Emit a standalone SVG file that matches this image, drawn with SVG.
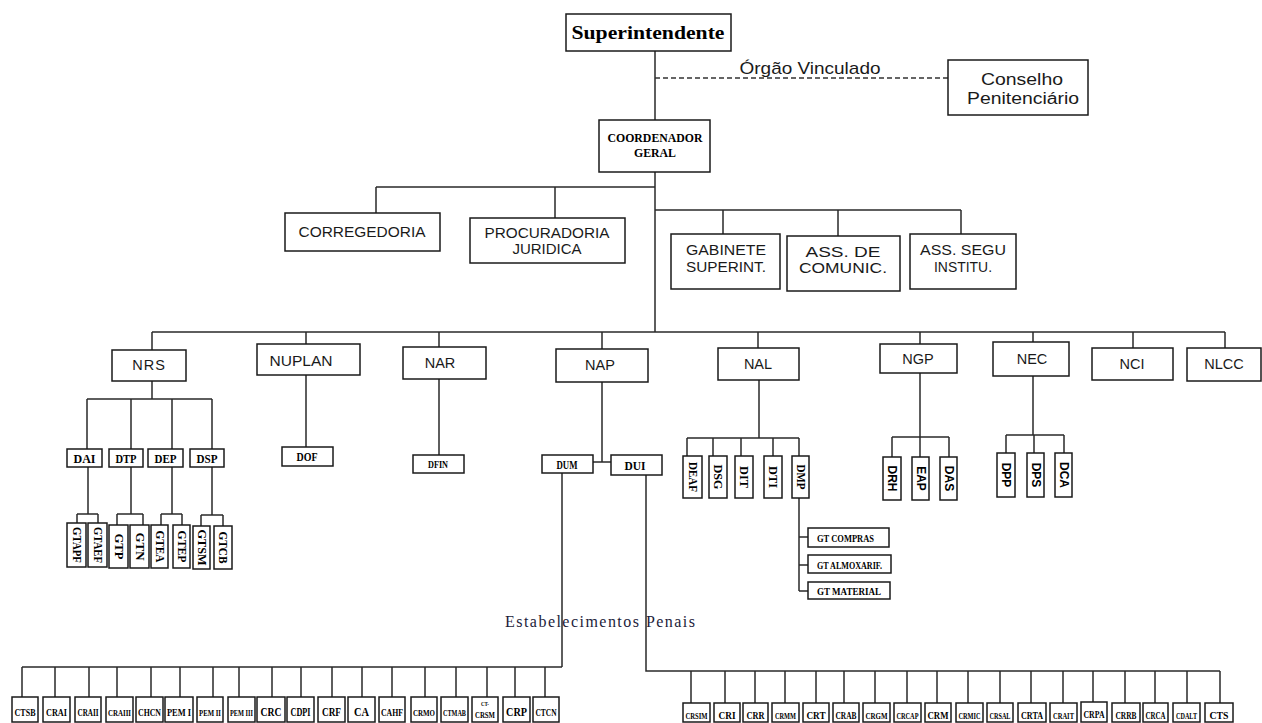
<svg xmlns="http://www.w3.org/2000/svg" width="1262" height="723" viewBox="0 0 1262 723">
<style>
.b{fill:#fff;stroke:#1a1a1a;stroke-width:1.5}
.l{stroke:#2a2a2a;stroke-width:1.5;fill:none}
.s{font-family:"Liberation Sans",Arial,sans-serif;fill:#1a1a1a;text-anchor:middle}
.t{font-family:"Liberation Serif","Times New Roman",serif;font-weight:bold;fill:#000;text-anchor:middle}
.v{font-family:"Liberation Serif","Times New Roman",serif;font-weight:bold;fill:#000;text-anchor:middle;font-size:12px}
.vs{font-family:"Liberation Sans",Arial,sans-serif;font-weight:bold;fill:#000;text-anchor:middle;font-size:12px}
.r{font-size:14.5px}
.m{font-size:15px}
.e{font-size:13px}
</style>
<rect width="1262" height="723" fill="#fff"/>
<g id="connectors">
<path class="l" d="M655 51V120M655 172V332"/>
<path d="M655 78H948" stroke="#333" stroke-width="1.3" stroke-dasharray="5 3" fill="none"/>
<path class="l" d="M376 187H655M376 187V213M555 187V218"/>
<path class="l" d="M655 210H961M723 210V234M838 210V236M961 210V234"/>
<path class="l" d="M152 332H1225M152 332V350M306 332V344M439 332V347M602 332V349M758 332V348M920 332V344M1033 332V342M1133 332V348M1225 332V348"/>
<path class="l" d="M152 381V399M87 399H212M87 399V449M131 399V449M172 399V449M212 399V449"/>
<path class="l" d="M88 467V514M131 467V514M172 467V514M212 467V515M77 514H98M77 514V523M98 514V523M117 514H143M117 514V525M143 514V525M161 514H182M161 514V525M182 514V525M201 515H223M201 515V526M223 515V526"/>
<path class="l" d="M306 375V447M439 379V455"/>
<path class="l" d="M602 382V462M593 462H611"/>
<path class="l" d="M759 380V438M687 438H799M687 438V456M713 438V456M741 438V456M773 438V456M799 438V456"/>
<path class="l" d="M799 498V591M799 537H808M799 565H808M799 591H808"/>
<path class="l" d="M920 373V437M892 437H949M892 437V457M920 437V457M949 437V457"/>
<path class="l" d="M1033 376V435M1006 435H1064M1006 435V453M1034 435V453M1064 435V453"/>
<path class="l" d="M562 473V667M22 667H562M22 667V697M55 667V697M89 667V697M117 667V697M151 667V697M180 667V697M213 667V697M239 667V697M272 667V697M301 667V697M332 667V697M362 667V697M392 667V697M425 667V697M456 667V697M487 667V697M515 667V697M545 667V697"/>
<path class="l" d="M646 475V671H1220M691 671V703M725 671V703M755 671V703M785 671V703M816 671V703M844 671V703M875 671V703M907 671V703M937 671V703M968 671V703M1000 671V703M1031 671V703M1063 671V703M1093 671V703M1125 671V703M1155 671V703M1187 671V703M1220 671V703"/>
</g>
<g id="superintendente"><rect class="b" x="566" y="14" width="165" height="37"/><text class="t" x="648" y="39" font-size="19" textLength="153" lengthAdjust="spacingAndGlyphs">Superintendente</text></g>
<g id="orgao-vinculado"><text class="s" x="810" y="74" font-size="17" textLength="141" lengthAdjust="spacingAndGlyphs">Órgão Vinculado</text></g>
<g id="conselho"><rect class="b" x="948" y="60" width="140" height="55"/><text class="s" x="1022" y="84.5" font-size="16" textLength="82" lengthAdjust="spacingAndGlyphs">Conselho</text><text class="s" x="1023" y="103.5" font-size="16" textLength="112" lengthAdjust="spacingAndGlyphs">Penitenciário</text></g>
<g id="coordenador"><rect class="b" x="599" y="120" width="111" height="52"/><text class="t" x="655" y="142" font-size="13.5" textLength="95" lengthAdjust="spacingAndGlyphs">COORDENADOR</text><text class="t" x="655" y="157" font-size="13.5" textLength="42" lengthAdjust="spacingAndGlyphs">GERAL</text></g>
<g id="corregedoria"><rect class="b" x="285" y="213" width="155" height="38"/><text class="s m" x="362" y="237" textLength="127" lengthAdjust="spacingAndGlyphs">CORREGEDORIA</text></g>
<g id="procuradoria"><rect class="b" x="470" y="218" width="155" height="45"/><text class="s m" x="547" y="238" textLength="125" lengthAdjust="spacingAndGlyphs">PROCURADORIA</text><text class="s m" x="547" y="254">JURIDICA</text></g>
<g id="gabinete"><rect class="b" x="671" y="234" width="109" height="55"/><text class="s m" x="726" y="255" textLength="80" lengthAdjust="spacingAndGlyphs">GABINETE</text><text class="s m" x="726" y="272" textLength="80" lengthAdjust="spacingAndGlyphs">SUPERINT.</text></g>
<g id="ass-comunic"><rect class="b" x="787" y="236" width="113" height="55"/><text class="s m" x="843" y="257" textLength="75" lengthAdjust="spacingAndGlyphs">ASS. DE</text><text class="s m" x="843" y="273" textLength="88" lengthAdjust="spacingAndGlyphs">COMUNIC.</text></g>
<g id="ass-segu"><rect class="b" x="910" y="234" width="106" height="55"/><text class="s m" x="963" y="255" textLength="86" lengthAdjust="spacingAndGlyphs">ASS. SEGU</text><text class="s m" x="963" y="272" textLength="58" lengthAdjust="spacingAndGlyphs">INSTITU.</text></g>
<g id="nrs"><rect class="b" x="112" y="350" width="74" height="31"/><text class="s r" x="149" y="370" letter-spacing="1">NRS</text></g>
<g id="nuplan"><rect class="b" x="257" y="344" width="103" height="31"/><text class="s r" x="301" y="366" textLength="63" lengthAdjust="spacingAndGlyphs">NUPLAN</text></g>
<g id="nar"><rect class="b" x="403" y="347" width="83" height="32"/><text class="s r" x="440" y="368">NAR</text></g>
<g id="nap"><rect class="b" x="556" y="349" width="92" height="33"/><text class="s r" x="600" y="370">NAP</text></g>
<g id="nal"><rect class="b" x="718" y="348" width="81" height="32"/><text class="s r" x="758" y="369">NAL</text></g>
<g id="ngp"><rect class="b" x="880" y="344" width="77" height="29"/><text class="s r" x="918" y="364">NGP</text></g>
<g id="nec"><rect class="b" x="993" y="342" width="76" height="34"/><text class="s r" x="1032" y="364">NEC</text></g>
<g id="nci"><rect class="b" x="1092" y="348" width="81" height="32"/><text class="s r" x="1132" y="369">NCI</text></g>
<g id="nlcc"><rect class="b" x="1187" y="348" width="74" height="33"/><text class="s r" x="1224" y="369">NLCC</text></g>
<g id="dai"><rect class="b" x="67" y="449" width="35" height="18"/><text class="t e" x="84.5" y="463" textLength="22" lengthAdjust="spacingAndGlyphs">DAI</text></g>
<g id="dtp"><rect class="b" x="109" y="449" width="34" height="18"/><text class="t e" x="126" y="463" textLength="21" lengthAdjust="spacingAndGlyphs">DTP</text></g>
<g id="dep"><rect class="b" x="148" y="449" width="35" height="18"/><text class="t e" x="165.5" y="463" textLength="22" lengthAdjust="spacingAndGlyphs">DEP</text></g>
<g id="dsp"><rect class="b" x="190" y="449" width="34" height="18"/><text class="t e" x="207" y="463" textLength="21" lengthAdjust="spacingAndGlyphs">DSP</text></g>
<g id="gtapf"><rect class="b" x="67" y="523" width="19" height="44"/><text class="v" x="76.5" y="545" dy="4" transform="rotate(90 76.5 545)" textLength="36" lengthAdjust="spacingAndGlyphs">GTAPF</text></g>
<g id="gtaef"><rect class="b" x="88" y="523" width="19" height="44"/><text class="v" x="97.5" y="545" dy="4" transform="rotate(90 97.5 545)" textLength="36" lengthAdjust="spacingAndGlyphs">GTAEF</text></g>
<g id="gtp"><rect class="b" x="109" y="525" width="19" height="43"/><text class="v" x="118.5" y="546.5" dy="4" transform="rotate(90 118.5 546.5)" textLength="26" lengthAdjust="spacingAndGlyphs">GTP</text></g>
<g id="gtn"><rect class="b" x="130" y="525" width="19" height="43"/><text class="v" x="139.5" y="546.5" dy="4" transform="rotate(90 139.5 546.5)" textLength="28" lengthAdjust="spacingAndGlyphs">GTN</text></g>
<g id="gtea"><rect class="b" x="151" y="525" width="17" height="43"/><text class="v" x="159.5" y="546.5" dy="4" transform="rotate(90 159.5 546.5)" textLength="32" lengthAdjust="spacingAndGlyphs">GTEA</text></g>
<g id="gtep"><rect class="b" x="173" y="525" width="17" height="43"/><text class="v" x="181.5" y="546.5" dy="4" transform="rotate(90 181.5 546.5)" textLength="32" lengthAdjust="spacingAndGlyphs">GTEP</text></g>
<g id="gtsm"><rect class="b" x="193" y="526" width="17" height="43"/><text class="v" x="201.5" y="547.5" dy="4" transform="rotate(90 201.5 547.5)" textLength="36" lengthAdjust="spacingAndGlyphs">GTSM</text></g>
<g id="gtcb"><rect class="b" x="214" y="526" width="18" height="43"/><text class="v" x="223" y="547.5" dy="4" transform="rotate(90 223 547.5)" textLength="32" lengthAdjust="spacingAndGlyphs">GTCB</text></g>
<g id="dof"><rect class="b" x="282" y="447" width="51" height="19"/><text class="t" x="307" y="461" font-size="12" textLength="21" lengthAdjust="spacingAndGlyphs">DOF</text></g>
<g id="dfin"><rect class="b" x="413" y="455" width="51" height="18"/><text class="t" x="438" y="468" font-size="10" textLength="20" lengthAdjust="spacingAndGlyphs">DFIN</text></g>
<g id="dum"><rect class="b" x="542" y="455" width="51" height="18"/><text class="t" x="567" y="469" font-size="12" textLength="21" lengthAdjust="spacingAndGlyphs">DUM</text></g>
<g id="dui"><rect class="b" x="611" y="455" width="51" height="20"/><text class="t" x="635" y="470" font-size="12" textLength="21" lengthAdjust="spacingAndGlyphs">DUI</text></g>
<g id="deaf"><rect class="b" x="683" y="456" width="19" height="42"/><text class="v" x="692.5" y="477" dy="4" transform="rotate(90 692.5 477)" textLength="30" lengthAdjust="spacingAndGlyphs">DEAF</text></g>
<g id="dsg"><rect class="b" x="709" y="456" width="18" height="42"/><text class="v" x="718" y="477" dy="4" transform="rotate(90 718 477)" textLength="25" lengthAdjust="spacingAndGlyphs">DSG</text></g>
<g id="dit"><rect class="b" x="735" y="456" width="18" height="42"/><text class="v" x="744" y="477" dy="4" transform="rotate(90 744 477)" textLength="22" lengthAdjust="spacingAndGlyphs">DIT</text></g>
<g id="dti"><rect class="b" x="764" y="456" width="18" height="42"/><text class="v" x="773" y="477" dy="4" transform="rotate(90 773 477)" textLength="22" lengthAdjust="spacingAndGlyphs">DTI</text></g>
<g id="dmp"><rect class="b" x="792" y="456" width="17" height="42"/><text class="v" x="800.5" y="477" dy="4" transform="rotate(90 800.5 477)" textLength="25" lengthAdjust="spacingAndGlyphs">DMP</text></g>
<g id="gt-compras"><rect class="b" x="808" y="528" width="81" height="19"/><text class="t" x="817" y="542" font-size="10.5" style="text-anchor:start" textLength="57" lengthAdjust="spacingAndGlyphs">GT COMPRAS</text></g>
<g id="gt-almoxarif"><rect class="b" x="808" y="555" width="83" height="18"/><text class="t" x="817" y="568.5" font-size="10.5" style="text-anchor:start" textLength="65" lengthAdjust="spacingAndGlyphs">GT ALMOXARIF.</text></g>
<g id="gt-material"><rect class="b" x="808" y="582" width="82" height="17"/><text class="t" x="817" y="595" font-size="10.5" style="text-anchor:start" textLength="64" lengthAdjust="spacingAndGlyphs">GT MATERIAL</text></g>
<g id="drh"><rect class="b" x="883" y="457" width="18" height="43"/><text class="vs" x="892" y="478.5" dy="4" transform="rotate(90 892 478.5)">DRH</text></g>
<g id="eap"><rect class="b" x="912" y="457" width="17" height="43"/><text class="vs" x="920.5" y="478.5" dy="4" transform="rotate(90 920.5 478.5)">EAP</text></g>
<g id="das"><rect class="b" x="940" y="457" width="17" height="43"/><text class="vs" x="948.5" y="478.5" dy="4" transform="rotate(90 948.5 478.5)">DAS</text></g>
<g id="dpp"><rect class="b" x="997" y="453" width="18" height="44"/><text class="vs" x="1006" y="475" dy="4" transform="rotate(90 1006 475)">DPP</text></g>
<g id="dps"><rect class="b" x="1027" y="453" width="17" height="44"/><text class="vs" x="1035.5" y="475" dy="4" transform="rotate(90 1035.5 475)">DPS</text></g>
<g id="dca"><rect class="b" x="1055" y="453" width="17" height="44"/><text class="vs" x="1063.5" y="475" dy="4" transform="rotate(90 1063.5 475)">DCA</text></g>
<g id="estabelecimentos"><text x="600" y="627" font-family="'Liberation Serif','Times New Roman',serif" font-size="16" fill="#1c1c3a" text-anchor="middle" textLength="190" lengthAdjust="spacing">Estabelecimentos Penais</text></g>
<g id="ep-left" class="t">
<rect class="b" x="12" y="697" width="26" height="25"/><text x="25" y="716" font-size="10.5" textLength="21" lengthAdjust="spacingAndGlyphs">CTSB</text>
<rect class="b" x="43" y="697" width="27" height="25"/><text x="56.5" y="716" font-size="11" textLength="21" lengthAdjust="spacingAndGlyphs">CRAI</text>
<rect class="b" x="75" y="697" width="26" height="25"/><text x="88" y="716" font-size="9.5" textLength="21" lengthAdjust="spacingAndGlyphs">CRAII</text>
<rect class="b" x="106" y="697" width="27" height="25"/><text x="119.5" y="716" font-size="8.7" textLength="23" lengthAdjust="spacingAndGlyphs">CRAIII</text>
<rect class="b" x="136" y="697" width="27" height="25"/><text x="149.5" y="716" font-size="9.8" textLength="23" lengthAdjust="spacingAndGlyphs">CHCN</text>
<rect class="b" x="165" y="697" width="28" height="25"/><text x="179" y="716" font-size="10.3" textLength="24" lengthAdjust="spacingAndGlyphs">PEM I</text>
<rect class="b" x="197" y="697" width="26" height="25"/><text x="210" y="716" font-size="8.6" textLength="22" lengthAdjust="spacingAndGlyphs">PEM II</text>
<rect class="b" x="228" y="697" width="27" height="25"/><text x="241.5" y="716" font-size="7.9" textLength="23" lengthAdjust="spacingAndGlyphs">PEM III</text>
<rect class="b" x="257" y="697" width="28" height="25"/><text x="271" y="716" font-size="12" textLength="21" lengthAdjust="spacingAndGlyphs">CRC</text>
<rect class="b" x="287" y="697" width="27" height="25"/><text x="300.5" y="716" font-size="11.5" textLength="20" lengthAdjust="spacingAndGlyphs">CDPI</text>
<rect class="b" x="318" y="697" width="27" height="25"/><text x="331.5" y="716" font-size="12" textLength="19" lengthAdjust="spacingAndGlyphs">CRF</text>
<rect class="b" x="348" y="697" width="27" height="25"/><text x="361.5" y="716" font-size="12" textLength="15" lengthAdjust="spacingAndGlyphs">CA</text>
<rect class="b" x="379" y="697" width="26" height="25"/><text x="392" y="716" font-size="9.8" textLength="22" lengthAdjust="spacingAndGlyphs">CAHF</text>
<rect class="b" x="411" y="697" width="26" height="25"/><text x="424" y="716" font-size="8.8" textLength="22" lengthAdjust="spacingAndGlyphs">CRMO</text>
<rect class="b" x="441" y="697" width="27" height="25"/><text x="454.5" y="716" font-size="7.8" textLength="23" lengthAdjust="spacingAndGlyphs">CTMAB</text>
<rect class="b" x="472" y="697" width="26" height="25"/><text x="485" y="706" font-size="7" textLength="8" lengthAdjust="spacingAndGlyphs">CT-</text><text x="485" y="717.5" font-size="7.5" textLength="20" lengthAdjust="spacingAndGlyphs">CRSM</text>
<rect class="b" x="503" y="697" width="27" height="25"/><text x="516.5" y="716" font-size="12" textLength="21" lengthAdjust="spacingAndGlyphs">CRP</text>
<rect class="b" x="533" y="697" width="26" height="25"/><text x="546" y="716" font-size="9.8" textLength="21" lengthAdjust="spacingAndGlyphs">CTCN</text>
</g>
<g id="ep-right" class="t">
<rect class="b" x="683" y="703" width="27" height="19"/><text x="696.5" y="719" font-size="8.7" textLength="22" lengthAdjust="spacingAndGlyphs">CRSIM</text>
<rect class="b" x="714" y="703" width="26" height="19"/><text x="727" y="719" font-size="11" textLength="17" lengthAdjust="spacingAndGlyphs">CRI</text>
<rect class="b" x="743" y="703" width="25" height="19"/><text x="755.5" y="719" font-size="11" textLength="18" lengthAdjust="spacingAndGlyphs">CRR</text>
<rect class="b" x="772" y="703" width="27" height="19"/><text x="785.5" y="719" font-size="8.7" textLength="21" lengthAdjust="spacingAndGlyphs">CRMM</text>
<rect class="b" x="803" y="703" width="26" height="19"/><text x="816" y="719" font-size="11" textLength="19" lengthAdjust="spacingAndGlyphs">CRT</text>
<rect class="b" x="833" y="703" width="26" height="19"/><text x="846" y="719" font-size="10" textLength="21" lengthAdjust="spacingAndGlyphs">CRAB</text>
<rect class="b" x="863" y="703" width="27" height="19"/><text x="876.5" y="719" font-size="9" textLength="22" lengthAdjust="spacingAndGlyphs">CRGM</text>
<rect class="b" x="894" y="703" width="27" height="19"/><text x="907.5" y="719" font-size="8.3" textLength="22" lengthAdjust="spacingAndGlyphs">CRCAP</text>
<rect class="b" x="925" y="703" width="26" height="19"/><text x="938" y="719" font-size="11" textLength="21" lengthAdjust="spacingAndGlyphs">CRM</text>
<rect class="b" x="956" y="703" width="27" height="19"/><text x="969.5" y="719" font-size="8.3" textLength="22" lengthAdjust="spacingAndGlyphs">CRMIC</text>
<rect class="b" x="987" y="703" width="26" height="19"/><text x="1000" y="719" font-size="8.5" textLength="21" lengthAdjust="spacingAndGlyphs">CRSAL</text>
<rect class="b" x="1018" y="703" width="28" height="19"/><text x="1032" y="719" font-size="10" textLength="22" lengthAdjust="spacingAndGlyphs">CRTA</text>
<rect class="b" x="1050" y="703" width="27" height="19"/><text x="1063.5" y="719" font-size="9" textLength="21" lengthAdjust="spacingAndGlyphs">CRAIT</text>
<rect class="b" x="1081" y="702" width="26" height="20"/><text x="1094" y="718" font-size="10" textLength="21" lengthAdjust="spacingAndGlyphs">CRPA</text>
<rect class="b" x="1112" y="703" width="28" height="19"/><text x="1126" y="719" font-size="10" textLength="21" lengthAdjust="spacingAndGlyphs">CRRB</text>
<rect class="b" x="1143" y="703" width="25" height="19"/><text x="1155.5" y="719" font-size="9.3" textLength="20" lengthAdjust="spacingAndGlyphs">CRCA</text>
<rect class="b" x="1173" y="703" width="27" height="19"/><text x="1186.5" y="719" font-size="8.3" textLength="21" lengthAdjust="spacingAndGlyphs">CDALT</text>
<rect class="b" x="1205" y="703" width="28" height="19"/><text x="1219" y="719" font-size="11" textLength="19" lengthAdjust="spacingAndGlyphs">CTS</text>
</g>
</svg>
